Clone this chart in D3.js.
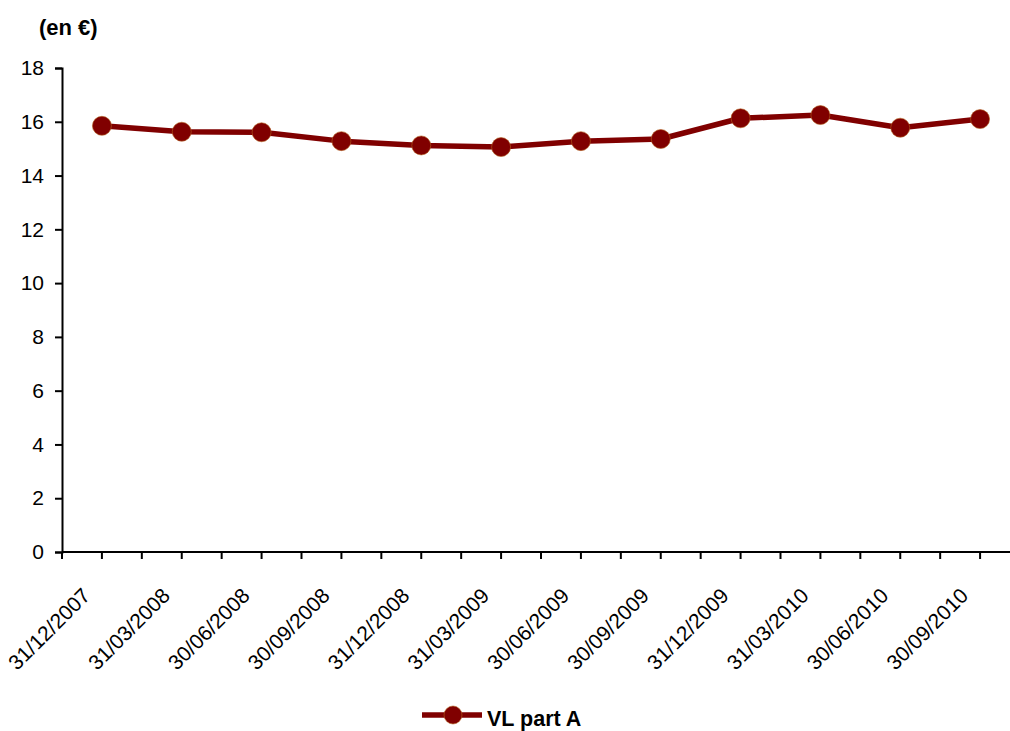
<!DOCTYPE html>
<html>
    <head>
        <meta charset="utf-8">
        <script src="https://d3js.org/d3.v7.min.js"></script>
        <style>
            body { margin: 0; background: #fff; }
            svg { display: block; font-family: "Liberation Sans", Arial, sans-serif; }
        </style>
    </head>

    <body>
        <svg id="chart" width="1010" height="731"></svg>
        <script>
            // values
            let dates= ["31/12/2007", "31/03/2008", "30/06/2008", "30/09/2008", "31/12/2008", "31/03/2009",
                        "30/06/2009", "30/09/2009", "31/12/2009", "31/03/2010", "30/06/2010", "30/09/2010"];
            let vlPartA= [15.85, 15.63, 15.61, 15.28, 15.12, 15.06, 15.28, 15.36, 16.13, 16.25, 15.78, 16.10];
            let yTicks= [0, 2, 4, 6, 8, 10, 12, 14, 16, 18];
            let seriesName= "VL part A";
            let unitLabel= "(en €)";

            let color= "#800000";
            let plotLeft= 62, plotRight= 1020, plotTop= 68, plotBottom= 552;

            let svg= d3.select("#chart");

            let x= d3.scaleBand().domain(dates).range([plotLeft, plotRight]);
            let y= d3.scaleLinear().domain([0, 18]).range([plotBottom, plotTop]);

            // y axis
            let yAxis= svg.append("g")
                .attr("transform", "translate(" + plotLeft + ",0)")
                .call(d3.axisLeft(y).tickValues(yTicks).tickSize(7).tickPadding(11));
            yAxis.select(".domain").attr("stroke", "#000").attr("stroke-width", 2);
            yAxis.selectAll(".tick line").attr("stroke", "#000").attr("stroke-width", 2);
            yAxis.selectAll(".tick text")
                .attr("fill", "#000")
                .style("font-size", "21px")
                .style("font-family", "Liberation Sans, Arial, sans-serif");

            // x axis: line plus ticks at band edges and band centres
            let xAxis= svg.append("g");
            xAxis.append("line")
                .attr("x1", plotLeft).attr("x2", plotRight)
                .attr("y1", plotBottom).attr("y2", plotBottom)
                .attr("stroke", "#000").attr("stroke-width", 2);
            let tickXs= [];
            for (let d of dates) {
                tickXs.push(x(d));
                tickXs.push(x(d) + x.bandwidth() / 2);
            }
            tickXs.push(plotRight);
            xAxis.selectAll("line.tk")
                .data(tickXs)
                .join("line")
                .attr("class", "tk")
                .attr("x1", d => d).attr("x2", d => d)
                .attr("y1", plotBottom).attr("y2", plotBottom + 7)
                .attr("stroke", "#000").attr("stroke-width", 2);
            xAxis.selectAll("text")
                .data(dates)
                .join("text")
                .attr("transform", d => "translate(" + (x(d) + x.bandwidth() / 2 - 10.5) + "," + (plotBottom + 45) + ") rotate(-45)")
                .attr("text-anchor", "end")
                .attr("fill", "#000")
                .style("font-size", "21px")
                .text(d => d);

            // unit label
            svg.append("text")
                .attr("x", 39).attr("y", 35)
                .style("font-size", "22px")
                .attr("font-weight", "bold")
                .text(unitLabel);

            // series line
            let pts= dates.map((d, i) => [x(d) + x.bandwidth() / 2, y(vlPartA[i])]);
            svg.append("path")
                .datum(pts)
                .attr("d", d3.line())
                .attr("fill", "none")
                .attr("stroke", color)
                .attr("stroke-width", 5.5)
                .attr("stroke-linejoin", "round");
            svg.selectAll("circle.pt")
                .data(pts)
                .join("circle")
                .attr("class", "pt")
                .attr("cx", d => d[0])
                .attr("cy", d => d[1])
                .attr("r", 9.5)
                .attr("fill", color)
                .attr("stroke", "#b4621e")
                .attr("stroke-width", 0.6);

            // legend
            let lg= svg.append("g").attr("transform", "translate(422,715)");
            lg.append("line")
                .attr("x1", 0).attr("x2", 60)
                .attr("y1", 0).attr("y2", 0)
                .attr("stroke", color).attr("stroke-width", 5.5);
            lg.append("circle")
                .attr("cx", 31).attr("cy", 0).attr("r", 9)
                .attr("fill", color)
                .attr("stroke", "#b4621e").attr("stroke-width", 0.6);
            lg.append("text")
                .attr("x", 65).attr("y", 11)
                .style("font-size", "21.5px")
                .attr("font-weight", "bold")
                .text(seriesName);
        </script>
    </body>
</html>
